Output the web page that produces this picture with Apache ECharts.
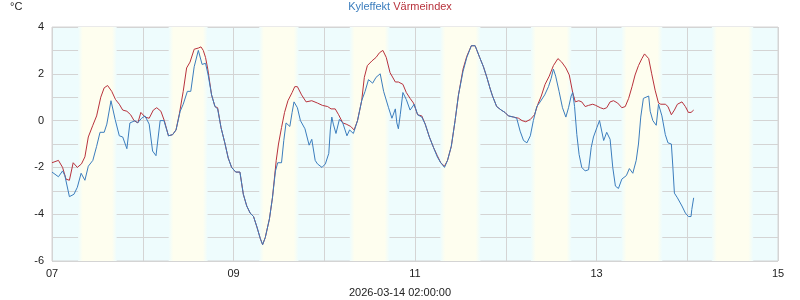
<!DOCTYPE html>
<html><head><meta charset="utf-8">
<script src="https://cdn.jsdelivr.net/npm/echarts@6/dist/echarts.min.js"></script>
<style>html,body{margin:0;padding:0;background:#fff}#c{width:800px;height:300px}</style>
</head><body><div id="c"></div>
<script>
// hours since 2026-03-07 00:00
const dayLabels = ['07','08','09','10','11','12','13','14','15'];
const yTicks = [-6,-4,-2,0,2,4];
const sunrise = [6.9,6.85,6.8,6.75,6.7,6.65,6.6,6.5];
const sunset  = [17.1,17.15,17.2,17.25,17.3,17.35,17.4,17.45];
const updated = '2026-03-14 02:00:00';

const blueT = [0,1.7,2.8,3.4,4.6,5.8,6.7,7.7,8.7,9.6,10.8,11.8,12.7,13.8,14.5,15.6,16.7,17.8,18.7,19.8,20.6,22,22.6,23.7,24.6,25.7,26.6,27.5,28.6,29.6,30.8,31.9,32.8,33.9,34.7,35.8,36.7,37.6,38.7,
39.7,40.6,41.3,42.2,43.1,43.8,44.7,45.7,46.6,47.5,48.6,49.7,50.6,51.5,52.4,53.3,54.2,55.1,55.7,56.4,57.5,58.3,59.1,59.7,60.7,61.3,61.9,62.9,63.5,64.0,64.9,65.7,66.9,68.0,68.7,69.6,70.2,71.4,72.3,73.2,73.6,74.0,74.4,75.1,76.0,76.9,
78.0,78.7,79.7,80.8,81.9,82.8,83.7,84.8,85.7,86.8,87.7,89.0,89.9,90.8,91.2,91.6,92.1,92.8,93.7,94.7,95.8,96.7,97.8,98.7,99.8,100.9,101.9,102.8,103.8,104.6,105.6,106.6,107.5,108.7,109.7,110.9,111.9,113.1,114.1,115.0,115.9,
116.5,117.6,118.8,119.8,120.7,122.1,122.9,123.8,124.7,125.6,126.5,127.3,128.2,129.1,130.3,131.3,132.0,132.6,133.2,134.1,135.0,135.9,136.6,137.3,137.7,138.2,138.8,139.4,140.1,141.0,141.9,142.6,143.2,144.1,144.8,
145.9,146.7,147.6,148.3,149.0,149.8,150.7,151.9,152.7,153.6,154.5,155.1,155.7,156.4,157.1,157.8,158.2,158.9,159.8,160.4,160.8,161.3,162.2,162.9,163.8,164.2,164.6,165.4,166.6,167.5,168.3,169.0,169.2,169.7];
const blueV = [-2.2,-2.4,-2.15,-2.35,-3.25,-3.15,-2.85,-2.25,-2.55,-1.95,-1.7,-1.1,-0.5,-0.5,-0.15,0.85,0.05,-0.65,-0.7,-1.2,-0.1,0,-0.1,0.1,0.2,-0.15,-1.3,-1.5,0,0,-0.65,-0.6,-0.4,0.4,0.7,1.25,1.25,2.3,3.0,
2.4,2.45,1.95,1.1,0.6,0.5,-0.3,-0.95,-1.6,-2.0,-2.2,-2.2,-3.15,-3.65,-3.95,-4.1,-4.55,-5.05,-5.3,-5.0,-4.2,-3.3,-2.15,-1.8,-1.8,-0.85,-0.1,-0.25,0.35,0.8,0.55,0,-0.35,-1.05,-0.8,-1.7,-1.85,-2.0,-1.85,-1.4,-0.4,0.15,-0.15,-0.55,0.05,-0.1,
-0.65,-0.4,-0.55,0,0.85,1.25,1.75,1.6,1.85,2.0,1.25,0.55,0.1,0.5,-0.1,-0.35,0.25,1.2,0.9,0.45,0.7,0.25,0.15,-0.15,-0.7,-1.15,-1.55,-1.8,-2.0,-1.7,-1.1,0,1.1,2.1,2.7,3.2,3.2,2.7,2.3,1.85,1.35,
1.05,0.6,0.45,0.35,0.2,0.15,0.1,-0.45,-0.85,-0.95,-0.65,0,0.6,0.8,1.1,1.45,1.8,2.2,1.9,1.25,0.55,0.15,0.55,1.05,1.2,0.6,-0.6,-1.45,-2.0,-2.15,-2.1,-1.15,-0.7,-0.3,0,
-0.85,-0.5,-0.8,-2.0,-2.8,-2.9,-2.5,-2.35,-2.05,-2.25,-1.7,-1.0,0.15,0.95,1.0,1.05,0.4,0,-0.2,0.7,0.7,0.2,-0.6,-0.95,-1.0,-2.0,-3.1,-3.3,-3.65,-3.95,-4.1,-4.1,-3.8,-3.3];

const redT = [0,1.7,2.8,3.7,4.6,5.6,6.7,7.8,8.7,9.6,10.8,11.8,12.9,13.8,14.7,15.8,16.8,17.8,18.7,19.8,20.8,21.7,22.7,23.5,24.6,25.7,26.8,27.7,28.8,29.7,30.8,31.9,32.8,33.7,34.7,35.6,36.5,37.6,38.7,39.4,40.0,40.6,41.2,42.2,43.1,43.8,44.7,
45.7,46.6,47.5,48.6,49.7,50.6,51.5,52.4,53.3,54.2,55.1,55.7,56.4,57.5,58.3,59.3,59.9,60.7,61.5,62.4,63.5,64.2,64.9,66.0,67.2,68.7,70.2,71.5,72.9,73.8,74.9,75.8,76.9,77.8,79.0,79.9,80.8,
81.9,82.6,83.4,84.6,85.7,86.6,87.5,88.4,89.4,90.8,91.6,92.8,93.7,94.7,95.6,96.7,97.8,98.7,99.8,100.9,101.9,102.8,103.8,104.6,105.6,106.6,107.5,108.7,109.7,110.9,111.9,113.1,114.1,115.0,115.9,
116.5,117.6,118.8,119.8,120.7,122.1,123.4,124.3,125.3,126.5,127.6,128.5,129.4,130.4,131.5,132.6,133.8,134.8,135.9,136.8,137.7,138.4,139.3,140.1,141.0,141.9,143.0,143.8,
145.0,145.9,146.7,147.6,148.5,149.6,150.7,151.6,152.5,153.4,154.2,155.1,156.0,156.7,157.8,158.6,159.5,160.4,161.0,162.2,162.9,163.8,164.6,165.4,166.6,167.5,168.3,169.0,169.7];
const redV = [-1.8,-1.7,-2.0,-2.5,-2.55,-1.8,-2.0,-1.85,-1.55,-0.7,-0.2,0.2,1.0,1.4,1.5,1.25,0.9,0.7,0.45,0.4,0.25,0,-0.1,0.35,0.15,0.1,0.45,0.55,0.4,0,-0.65,-0.6,-0.4,0.3,1.25,2.25,2.5,3.05,3.1,3.15,3.0,2.7,2.2,1.1,0.6,0.55,-0.3,
-0.95,-1.6,-2.0,-2.2,-2.2,-3.15,-3.65,-3.95,-4.1,-4.55,-5.05,-5.3,-5.0,-4.2,-3.3,-1.7,-1.0,-0.3,0.35,0.85,1.2,1.45,1.45,1.1,0.8,0.85,0.75,0.65,0.6,0.5,0.5,0.25,-0.1,-0.15,-0.25,-0.4,0,
0.85,1.85,2.35,2.55,2.7,2.9,3.0,2.7,2.05,1.65,1.65,1.55,1.2,0.95,0.75,0.25,0.2,-0.15,-0.7,-1.15,-1.5,-1.8,-1.95,-1.7,-1.1,0,1.1,2.2,2.75,3.2,3.2,2.7,2.3,1.85,1.35,
1.05,0.6,0.45,0.35,0.2,0.15,0.1,0,-0.05,0.05,0.25,0.7,1.05,1.55,1.9,2.35,2.65,2.5,2.25,1.95,1.2,0.8,0.85,0.8,0.6,0.65,0.7,0.65,
0.55,0.5,0.55,0.8,0.85,0.75,0.55,0.6,0.95,1.45,1.95,2.35,2.65,2.85,2.65,2.0,1.3,0.75,0.7,0.7,0.6,0.25,0.45,0.7,0.8,0.6,0.35,0.35,0.45];

const NIGHT = '#eefcfd', DAY = '#fefeef';
const chart = echarts.init(document.getElementById('c'), null, {renderer:'canvas'});
const bands = sunrise.map((s,i)=>[{xAxis: i*24+s}, {xAxis: i*24+sunset[i]}]);
const dayGrad = new echarts.graphic.LinearGradient(0,0,1,0,[
  {offset:0,color:NIGHT},{offset:0.12,color:DAY},{offset:0.88,color:DAY},{offset:1,color:NIGHT}]);
const pair = (t,v)=>t.map((x,i)=>[x,v[i]]);
const txt = {fontSize:11,fontWeight:'normal',fontFamily:'Liberation Sans'};
chart.setOption({
  animation:false,
  textStyle:{fontFamily:'Liberation Sans, Arial, sans-serif'},
  title:[
    {text:'{b|Kyleffekt} {r|Värmeindex}', left:'center', top:1, padding:0,
     textStyle:Object.assign({}, txt, {rich:{b:Object.assign({color:'#3b7dbd'},txt),r:Object.assign({color:'#b8323c'},txt)}})},
    {text:'°C', left:10, top:1, padding:0, textStyle:Object.assign({color:'#222'},txt)},
    {text:updated, left:'center', top:287, padding:0, textStyle:Object.assign({color:'#222'},txt)}
  ],
  grid:{left:52,right:22,top:27,bottom:39,show:true,backgroundColor:NIGHT,borderColor:'#d4d4d4',borderWidth:1},
  xAxis:{type:'value',min:0,max:192,interval:24,
    axisLine:{show:false},axisTick:{show:false},
    splitLine:{show:true,lineStyle:{color:'#d4d4d4',width:1}},
    axisLabel:{color:'#222',fontSize:11,margin:7,showMinLabel:true,showMaxLabel:true,
      formatter:v=>{const d=Math.round(v/24);return d%2===0?dayLabels[d]:'';}}},
  yAxis:{type:'value',min:-6,max:4,interval:1,
    axisLine:{show:false},axisTick:{show:false},
    splitLine:{show:true,lineStyle:{color:'#d4d4d4',width:1}},
    axisLabel:{color:'#222',fontSize:11,margin:8,formatter:v=>yTicks.includes(v)?String(v):''}},
  series:[
    {name:'Värmeindex',type:'line',data:pair(redT,redV),showSymbol:false,symbol:'none',
     lineStyle:{color:'#b8323c',width:1},z:3,
     markArea:{silent:true,itemStyle:{color:dayGrad},data:bands}},
    {name:'Kyleffekt',type:'line',data:pair(blueT,blueV),showSymbol:false,symbol:'none',
     lineStyle:{color:'#3b7dbd',width:1},z:4}
  ]
});
</script></body></html>
